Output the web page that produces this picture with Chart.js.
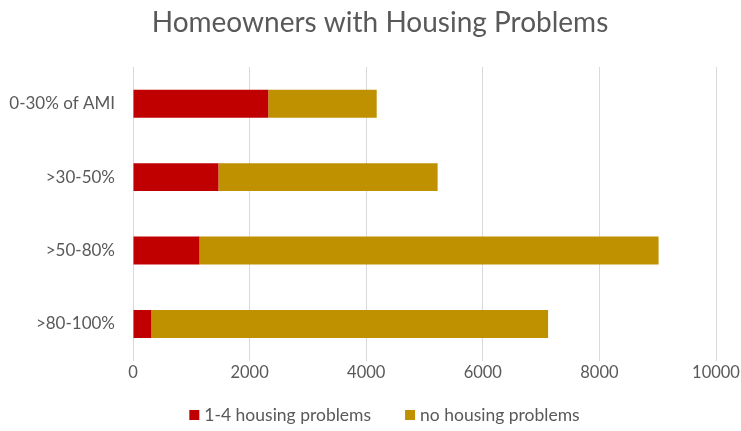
<!DOCTYPE html>
<html>
<head>
<meta charset="utf-8">
<script src="https://cdn.jsdelivr.net/npm/chart.js@4"></script>
<style>
html,body{margin:0;padding:0;background:#fff;}
#wrap{width:741px;height:431px;position:relative;}
</style>
</head>
<body>
<div id="wrap"><canvas id="c" width="741" height="431"></canvas></div>
<script>
const categories = ["0-30% of AMI", ">30-50%", ">50-80%", ">80-100%"];
const withProblems = [2320, 1465, 1140, 315];
const noProblems = [1860, 3760, 7875, 6805];
const xTicks = [0, 2000, 4000, 6000, 8000, 10000];
const seriesNames = ["1-4 housing problems", "no housing problems"];
const chartTitle = "Homeowners with Housing Problems";

const FONT = "Lato, 'Open Sans', sans-serif";
const titlePlugin = {
  id: 'ownTitle',
  afterDraw(chart) {
    const ctx = chart.ctx;
    ctx.save();
    ctx.font = "28px " + FONT;
    ctx.fillStyle = '#595959';
    ctx.textAlign = 'center';
    ctx.textBaseline = 'middle';
    ctx.fillText(chartTitle, 380, 23);
    ctx.restore();
  }
};
const legendPlugin = {
  id: 'ownLegend',
  afterDraw(chart) {
    const ctx = chart.ctx;
    ctx.save();
    ctx.font = "17.5px " + FONT;
    ctx.textBaseline = 'middle';
    ctx.textAlign = 'left';
    const box = 10, gapText = 5, gapItem = 34, cy = 415, cx = 384.5;
    const items = chart.data.datasets.map(d => ({text: d.label, color: d.backgroundColor, w: ctx.measureText(d.label).width}));
    let total = 0;
    items.forEach((it, i) => { total += box + gapText + it.w + (i < items.length - 1 ? gapItem : 0); });
    let x = cx - total / 2;
    items.forEach(it => {
      ctx.fillStyle = it.color;
      ctx.fillRect(x, cy - box / 2, box, box);
      x += box + gapText;
      ctx.fillStyle = '#595959';
      ctx.fillText(it.text, x, cy);
      x += it.w + gapItem;
    });
    ctx.restore();
  }
};
new Chart(document.getElementById('c'), {
  type: 'bar',
  data: {
    labels: categories,
    datasets: [
      {label: seriesNames[0], data: withProblems, backgroundColor: '#C00000', barPercentage: 0.76, categoryPercentage: 0.5},
      {label: seriesNames[1], data: noProblems, backgroundColor: '#BF9000', barPercentage: 0.76, categoryPercentage: 0.5}
    ]
  },
  plugins: [titlePlugin, legendPlugin],
  options: {
    indexAxis: 'y',
    responsive: false,
    animation: false,
    layout: {padding: {left: 9, right: 25, top: 67, bottom: 37.5}},
    scales: {
      x: {
        stacked: true, min: 0, max: 10000,
        afterBuildTicks: (axis) => { axis.ticks = xTicks.map(v => ({value: v})); },
        afterFit: (axis) => { axis.height += 11; },
        grid: {color: '#d9d9d9', drawTicks: true, tickLength: 2, tickColor: 'rgba(0,0,0,0)'},
        border: {display: false},
        ticks: {color: '#595959', font: {family: FONT, size: 16.5}, padding: 0, callback: (v) => String(v)}
      },
      y: {
        stacked: true,
        afterFit: (axis) => { axis.width = 124; },
        grid: {display: false, drawTicks: false, tickLength: 0},
        border: {display: false},
        ticks: {color: '#595959', font: {family: FONT, size: 17}, padding: 18}
      }
    },
    plugins: {
      title: {display: false},
      legend: {display: false},
      tooltip: {enabled: false}
    }
  }
});
</script>
</body>
</html>
